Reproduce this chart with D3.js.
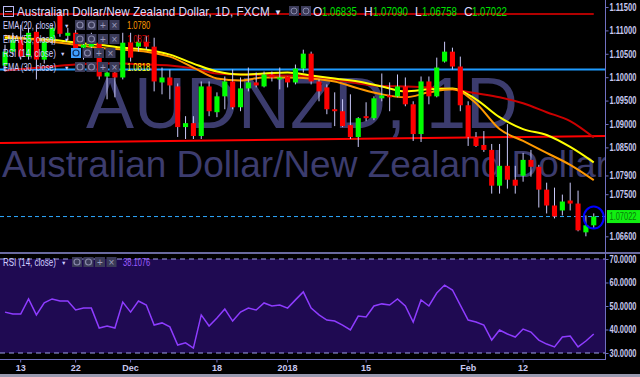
<!DOCTYPE html>
<html lang="en">
<head>
<meta charset="utf-8">
<title>AUDNZD 1D</title>
<script src="https://d3js.org/d3.v7.min.js"></script>
<style>
  body { margin: 0; background: #000; }
  svg { display: block; font-family: "Liberation Sans", Arial, sans-serif; }
</style>
</head>
<body>
<script>
// daily candles, 9 Nov 2017 .. 23 Feb 2018 : [open, high, low, close]
var ohlc = [
  [1.10249,1.10694,1.10121,1.10546],[1.10546,1.10949,1.10482,1.10800],[1.10800,1.11118,1.10376,1.10440],
  [1.10440,1.11055,1.10376,1.10949],[1.10970,1.11118,1.09952,1.10376],[1.10376,1.10843,1.10291,1.10758],
  [1.10800,1.11118,1.10694,1.11055],[1.11330,1.11436,1.10864,1.10927],[1.10885,1.11055,1.10800,1.10949],
  [1.10949,1.11055,1.10418,1.10546],[1.10631,1.10906,1.10376,1.10694],[1.10652,1.10949,1.10418,1.10715],
  [1.10737,1.10800,1.09952,1.10015],[1.10015,1.10270,1.09528,1.10100],[1.10100,1.10206,1.09570,1.09994],
  [1.09994,1.10949,1.09952,1.10737],[1.10737,1.10949,1.10334,1.10418],[1.10652,1.10906,1.10546,1.10758],
  [1.10758,1.10885,1.10588,1.10652],[1.10652,1.10843,1.09697,1.09909],[1.09888,1.10206,1.09634,1.09994],
  [1.09994,1.10164,1.09528,1.09824],[1.09803,1.09867,1.08722,1.08934],[1.08934,1.09167,1.08679,1.09018],
  [1.09018,1.09167,1.08679,1.08743],[1.08743,1.09909,1.08679,1.09803],[1.09803,1.09909,1.09167,1.09273],
  [1.09252,1.09676,1.09146,1.09591],[1.09591,1.10015,1.09315,1.09909],[1.09909,1.10164,1.09315,1.09358],
  [1.09358,1.09994,1.09273,1.09761],[1.09761,1.10206,1.09697,1.09888],[1.09888,1.10100,1.09782,1.09824],
  [1.09803,1.10121,1.09782,1.10058],[1.10058,1.10121,1.09909,1.09994],[1.09952,1.10206,1.09740,1.09994],
  [1.10015,1.10015,1.09782,1.09888],[1.09888,1.10270,1.09846,1.10185],[1.10185,1.10588,1.10100,1.10503],
  [1.10503,1.10546,1.09846,1.09909],[1.09909,1.09952,1.09485,1.09697],[1.09782,1.09846,1.09209,1.09315],
  [1.09315,1.09676,1.08955,1.09273],[1.09273,1.09528,1.08934,1.08955],[1.08976,1.09634,1.08679,1.08722],
  [1.08722,1.09146,1.08509,1.09124],[1.09167,1.09464,1.09061,1.09124],[1.09124,1.09591,1.09082,1.09549],
  [1.09549,1.10079,1.09485,1.09612],[1.09612,1.09888,1.09273,1.09570],[1.09591,1.10058,1.09570,1.09803],
  [1.09803,1.09994,1.09379,1.09421],[1.09421,1.09485,1.08637,1.08785],[1.08785,1.10015,1.08615,1.09909],
  [1.09909,1.10015,1.09421,1.09591],[1.09591,1.10418,1.09570,1.10206],[1.10334,1.10758,1.10312,1.10546],
  [1.10546,1.10631,1.10164,1.10228],[1.10228,1.10440,1.09273,1.09400],[1.09400,1.09485,1.08531,1.08722],
  [1.08722,1.08828,1.08509,1.08531],[1.08552,1.08849,1.08403,1.08446],[1.08446,1.08573,1.07512,1.07682],
  [1.07682,1.08573,1.07512,1.08106],[1.08106,1.08997,1.07619,1.07809],[1.07809,1.08106,1.07512,1.07682],
  [1.07894,1.08382,1.07767,1.08233],[1.08233,1.08446,1.07873,1.08085],[1.08085,1.08127,1.07215,1.07597],
  [1.07597,1.07746,1.07088,1.07258],[1.07258,1.07640,1.06982,1.07025],[1.07152,1.07491,1.07046,1.07343],
  [1.07364,1.07746,1.07152,1.07300],[1.07300,1.07576,1.06707,1.06728],[1.06685,1.07046,1.06600,1.06835],
  [1.06835,1.07090,1.06758,1.07022]
];

var rsi = [47.4,46.6,46.6,53.0,46.2,51.3,53.0,52.1,52.1,48.3,49.1,49.1,40.6,41.5,40.6,51.7,47.4,52.1,50.4,41.9,
  42.8,41.1,33.4,34.3,32.1,46.2,41.5,44.9,48.7,43.6,47.4,49.1,48.3,51.3,50.0,50.4,49.1,52.6,56.0,49.1,
  46.2,44.0,43.6,41.9,39.8,45.7,45.3,50.0,50.9,50.4,53.0,50.0,43.2,52.6,50.0,55.5,58.9,56.8,50.4,44.0,
  43.2,41.9,35.5,39.8,38.1,36.8,40.2,38.9,35.5,33.8,32.6,36.8,37.2,32.6,35.1,38.1076];

// moving averages read every third candle
var emaIdx = [0,3,6,9,12,15,18,21,24,27,30,33,36,39,42,45,48,51,54,57,60,63,66,69,72,75];
var ema20 = [1.10885,1.10821,1.10758,1.10694,1.10631,1.10588,1.10546,1.10440,1.10206,1.09973,1.09930,1.09994,1.09994,
  1.09973,1.09909,1.09761,1.09634,1.09570,1.09676,1.09740,1.09443,1.08891,1.08637,1.08382,1.08127,1.0780];
var ema30 = [1.10843,1.10821,1.10800,1.10737,1.10694,1.10631,1.10588,1.10482,1.10291,1.10121,1.10058,1.10079,1.10100,
  1.10037,1.09973,1.09909,1.09803,1.09697,1.09740,1.09761,1.09528,1.09146,1.08891,1.08764,1.08509,1.0818];
var ema55 = [1.10143,1.10185,1.10228,1.10270,1.10291,1.10291,1.10270,1.10249,1.10185,1.10079,1.10058,1.10047,1.10037,
  1.10015,1.09952,1.09867,1.09814,1.09803,1.09782,1.09740,1.09655,1.09570,1.09443,1.09252,1.09061,1.0871];

var topLevel = 1.11352, blueLevel = 1.10164;
var trendStart = 1.08596, trendEnd = 1.08740;   // at first and last candle

var priceTicks = [1.115,1.11,1.105,1.10,1.095,1.09,1.085,1.079,1.075,1.066];
var rsiTicks = [70,60,50,40,30];
var timeTickDates = ["2017-11-13","2017-11-22","2017-12-01","2017-12-18","2018-01-01","2018-01-15","2018-02-01","2018-02-12"];
var timeTickLabels = ["13","22","Dec","18","2018","15","Feb","12"];

// trading days (Christmas closed)
var fmt = d3.timeFormat("%Y-%m-%d");
var dates = d3.timeDay.range(new Date(2017,10,9), new Date(2018,1,24))
  .filter(function(d){ return d.getDay() != 0 && d.getDay() != 6 && fmt(d) != "2017-12-25"; })
  .map(fmt);

var W = 640, H = 377, axisX = 605;
var lav = "#c8c8f0";

var svg = d3.select("body").append("svg").attr("width", W).attr("height", H);
svg.append("rect").attr("width", W).attr("height", H).attr("fill", "#000");

// squeeze a text horizontally so it is `w` px wide, starting at x0
function fit(sel, x0, w){
  sel.each(function(){
    var t = d3.select(this);
    var f = w / this.getComputedTextLength();
    t.attr("x", x0 / f).attr("transform", "scale(" + f + ",1)");
  });
}

var x = d3.scaleBand().domain(dates).range([1.075, 597.675]).paddingInner(0.35).paddingOuter(0.175);
var xc = function(k){ return x(k) + x.bandwidth()/2; };
var y = d3.scaleLinear().domain([1.115, 1.066]).range([7, 236.3]);
var yr = d3.scaleLinear().domain([30, 70]).range([353, 259]);

var main = svg.append("g");
main.append("clipPath").attr("id","mainclip").append("rect").attr("width", axisX).attr("height", 252);

// watermark
var wm = main.append("g").attr("clip-path","url(#mainclip)").attr("fill","#3c3c6e");
wm.append("text").attr("x", 86).attr("y", 128).attr("font-size", 72).attr("textLength", 432)
  .attr("lengthAdjust","spacingAndGlyphs").text("AUDNZD, 1D");
wm.append("text").attr("x", 2).attr("y", 177).attr("font-size", 37).attr("textLength", 606)
  .attr("lengthAdjust","spacingAndGlyphs").text("Australian Dollar/New Zealand Dollar");

// horizontal levels
main.append("line").attr("x1",0).attr("x2",xc(dates[75])).attr("y1",y(topLevel)).attr("y2",y(topLevel))
  .attr("stroke","#b00000").attr("stroke-width",2);
main.append("line").attr("x1",0).attr("x2",axisX).attr("y1",y(blueLevel)).attr("y2",y(blueLevel))
  .attr("stroke","#1e9bff").attr("stroke-width",2);
var slope = (y(trendEnd) - y(trendStart)) / (xc(dates[75]) - xc(dates[0]));
main.append("line").attr("x1",0).attr("x2",axisX)
  .attr("y1", y(trendStart) - slope*xc(dates[0]))
  .attr("y2", y(trendStart) + slope*(axisX - xc(dates[0])))
  .attr("stroke","#ff0000").attr("stroke-width",2);

// EMAs
function emaLine(vals, col){
  var line = d3.line().curve(d3.curveMonotoneX)
    .x(function(d,i){ return xc(dates[emaIdx[i]]); })
    .y(function(d){ return y(d); });
  main.append("path").datum(vals).attr("d", line).attr("fill","none")
    .attr("stroke", col).attr("stroke-width", 2);
}
emaLine(ema55, "#cc0000");
emaLine(ema30, "#ffff00");
emaLine(ema20, "#ff9900");

// current price line
var last = ohlc[ohlc.length-1];
main.append("line").attr("x1",0).attr("x2",axisX).attr("y1",y(last[3])).attr("y2",y(last[3]))
  .attr("stroke","#2ea8ff").attr("stroke-width",1).attr("stroke-dasharray","4,3");

// candles
var candles = main.selectAll("g.candle").data(ohlc).enter().append("g").attr("class","candle");
candles.append("line")
  .attr("x1", function(d,i){ return xc(dates[i]); }).attr("x2", function(d,i){ return xc(dates[i]); })
  .attr("y1", function(d){ return y(d[1]); }).attr("y2", function(d){ return y(d[2]); })
  .attr("stroke", "#c8c8f8").attr("stroke-width", 1);
candles.append("rect")
  .attr("x", function(d,i){ return x(dates[i]); })
  .attr("width", x.bandwidth())
  .attr("y", function(d){ return y(Math.max(d[0], d[3])); })
  .attr("height", function(d){ return Math.max(1.5, Math.abs(y(d[0]) - y(d[3]))); })
  .attr("fill", function(d){ return d[3] >= d[0] ? "#00ff00" : "#ff0000"; });

// circle round last candle
main.append("ellipse").attr("cx", xc(dates[75])).attr("cy", y(last[3]) + 1).attr("rx", 10).attr("ry", 11)
  .attr("fill","none").attr("stroke","#0000ff").attr("stroke-width",2);

// header
var hdr = svg.append("g").attr("fill", "#dcdcff");
hdr.append("rect").attr("x",3.5).attr("y",6.5).attr("width",10).attr("height",10).attr("fill","none").attr("stroke","#b8b8f0");
hdr.append("line").attr("x1",5).attr("x2",12).attr("y1",11.5).attr("y2",11.5).attr("stroke","#b8b8f0");
hdr.append("text").attr("y",16).attr("font-size",12.5)
  .text("Australian Dollar/New Zealand Dollar, 1D, FXCM").call(fit, 17, 253);
hdr.append("text").attr("x",274).attr("y",15).attr("font-size",8).text("▼");
[289, 301].forEach(function(bx){
  hdr.append("rect").attr("x",bx).attr("y",6).attr("width",10).attr("height",10).attr("fill","#3a3a58");
  hdr.append("circle").attr("cx",bx+5).attr("cy",11).attr("r",3).attr("fill","none").attr("stroke","#8888aa");
});
var ohlcLbl = [["O",313,322,last[0]],["H",364,373,last[1]],["L",415,422,last[2]],["C",464,472,last[3]]];
ohlcLbl.forEach(function(o){
  hdr.append("text").attr("x",o[1]).attr("y",16).attr("font-size",12).text(o[0]);
  hdr.append("text").attr("y",16).attr("font-size",12).attr("fill","#00e000")
    .text(d3.format(".5f")(o[3])).call(fit, o[2], 35);
});

// legend rows
function icons(g, x0, y0, highlight){
  var syms = ["eye","gear","+","×"];
  syms.forEach(function(s, k){
    var bx = x0 + k*11.5;
    g.append("rect").attr("x",bx).attr("y",y0).attr("width",10).attr("height",10)
      .attr("fill", (highlight && k==0) ? "#3fa0ff" : "#3a3a58");
    if (s == "eye" || s == "gear") {
      g.append("circle").attr("cx",bx+5).attr("cy",y0+5).attr("r",3).attr("fill","none")
        .attr("stroke", (highlight && k==0) ? "#103060" : "#8888aa").attr("stroke-width",1.2);
    } else {
      g.append("text").attr("x",bx+5).attr("y",y0+8.5).attr("text-anchor","middle")
        .attr("font-size",10).attr("fill","#9a9abb").text(s);
    }
  });
}
function legendRow(label, by, iconX, hl, val, col, valX){
  var g = svg.append("g");
  g.append("text").attr("y",by).attr("font-size",10).attr("fill","#d0d0ff").text(label).call(fit, 3, 53);
  g.append("text").attr("x",iconX-11).attr("y",by-1.5).attr("font-size",5.5).attr("fill","#d0d0ff").text("▼");
  icons(g, iconX, by-9, hl);
  if (val) g.append("text").attr("y",by).attr("font-size",10.5).attr("fill",col)
    .text(val).call(fit, valX, val.length*3.9);
}
legendRow("EMA (20, close)", 29, 75, false, d3.format(".4f")(ema20[ema20.length-1]), "#ff9900", 127);
legendRow("EMA (55, close)", 43, 75, false, d3.format(".4f")(ema55[ema55.length-1]), "#cc0000", 127);
legendRow("RSI (14, close)", 57, 71, true, null);
legendRow("EMA (30, close)", 71, 75, false, d3.format(".4f")(ema30[ema30.length-1]), "#ffff00", 127);

// pane separator
svg.append("rect").attr("x",0).attr("y",252).attr("width",W).attr("height",2).attr("fill","#6a6aa0");

// RSI pane
svg.append("rect").attr("x",0).attr("y",yr(70)).attr("width",axisX).attr("height",yr(30)-yr(70)).attr("fill","#1f0a52");
[70,30].forEach(function(v){
  svg.append("line").attr("x1",0).attr("x2",axisX).attr("y1",yr(v)).attr("y2",yr(v))
    .attr("stroke","#a0a0e8").attr("stroke-dasharray","5,4");
});
var rsiLine = d3.line().x(function(d,i){ return xc(dates[i]); }).y(function(d){ return yr(d); });
svg.append("path").datum(rsi).attr("d", rsiLine).attr("fill","none").attr("stroke","#8e3cff").attr("stroke-width",1.5);
legendRow("RSI (14, close)", 266, 72, false, d3.format(".4f")(rsi[rsi.length-1]), "#9b5cff", 123);

// frame lines
svg.append("line").attr("x1",axisX+0.5).attr("x2",axisX+0.5).attr("y1",0).attr("y2",360).attr("stroke","#7070c0");
svg.append("line").attr("x1",0).attr("x2",axisX).attr("y1",359.5).attr("y2",359.5).attr("stroke","#7070c0");

// price axis
var pAxis = svg.append("g").attr("transform","translate(" + (axisX+0.5) + ",0)")
  .call(d3.axisRight(y).tickValues(priceTicks).tickFormat(d3.format(".5f")).tickSize(3).tickPadding(1));
var rAxis = svg.append("g").attr("transform","translate(" + (axisX+0.5) + ",0)")
  .call(d3.axisRight(yr).tickValues(rsiTicks).tickFormat(d3.format(".4f")).tickSize(3).tickPadding(1));
[pAxis, rAxis].forEach(function(a){
  a.select(".domain").remove();
  a.selectAll("line").attr("stroke","#7070c0");
  a.selectAll("text").attr("fill",lav).attr("font-size",10.5).attr("font-weight","bold")
    .attr("font-family","Liberation Sans, Arial, sans-serif")
    .call(fit, 4, 27);
});

// last price tag
svg.append("rect").attr("x",axisX+2).attr("y",y(last[3])-6.5).attr("width",W-axisX-2).attr("height",13).attr("fill","#11f011");
svg.append("text").attr("y",y(last[3])+3.5).attr("font-size",10.5).attr("fill","#0a7a0a")
  .text(d3.format(".5f")(last[3])).call(fit, 609.5, 27);

// time axis
var tAxis = svg.append("g").attr("transform","translate(0,359.5)")
  .call(d3.axisBottom(x).tickValues(timeTickDates).tickSize(3).tickPadding(2)
    .tickFormat(function(d,i){ return timeTickLabels[i]; }));
tAxis.select(".domain").remove();
tAxis.selectAll("line").attr("stroke","#7070c0");
tAxis.selectAll("text").attr("fill",lav).attr("font-size",9).attr("font-weight","bold")
  .attr("font-family","Liberation Sans, Arial, sans-serif");

// bottom strip
svg.append("rect").attr("x",0).attr("y",374).attr("width",W).attr("height",3).attr("fill","#9a9ab0");
</script>
</body>
</html>
